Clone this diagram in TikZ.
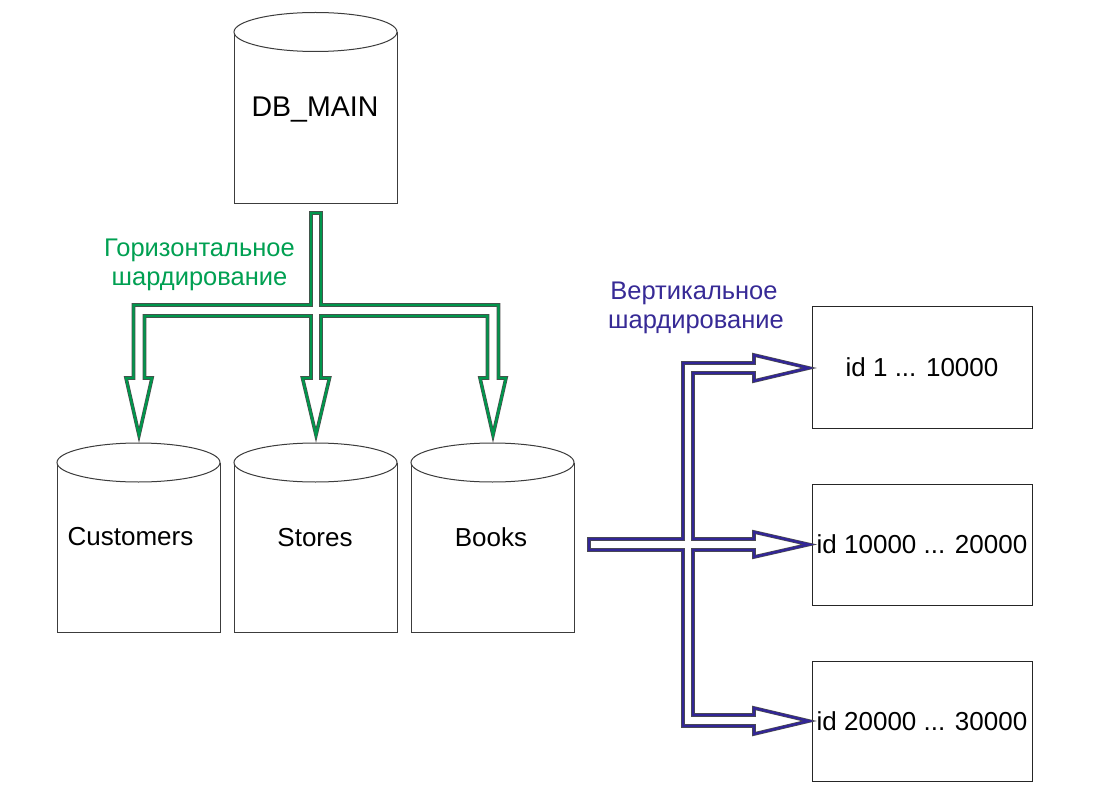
\documentclass[tikz,border=0pt]{standalone}
\usepackage{fontspec}
\setmainfont{Liberation Sans}
\usetikzlibrary{calc}
\definecolor{hgreen}{RGB}{0,160,82}
\definecolor{hgreenline}{RGB}{0,150,76}
\definecolor{vblue}{RGB}{55,42,150}
\definecolor{vblueline}{RGB}{50,38,150}
\definecolor{edge}{RGB}{60,60,60}
\tikzset{
  cylline/.style={draw=edge, line width=1, fill=white},
  rectbox/.style={draw=black!85, line width=1, minimum width=220, minimum height=121, inner sep=0,
    font=\fontsize{26}{31}\selectfont},
  dbtext/.style={anchor=base, inner sep=0, font=\fontsize{26}{31}\selectfont},
  greentext/.style={anchor=base, inner sep=0, text=hgreen, font=\fontsize{25.5}{30}\selectfont},
  bluetext/.style={anchor=base, inner sep=0, text=vblue, font=\fontsize{25.5}{30}\selectfont},
  arrowunder/.style={draw=black!70, line width=3.6, fill=white, line join=miter},
  greenarrow/.style={draw=hgreenline, line width=2.3, line join=miter},
  bluearrow/.style={draw=vblueline, line width=2.3, line join=miter},
}
\begin{document}
\begin{tikzpicture}[x=1pt, y=-1pt]
\useasboundingbox (0,0) rectangle (1103,794);
\fill[white] (0,0) rectangle (1103,794);

% cylinders: top ellipse centre and height of body
\coordinate (cmain) at (315.5,32);
\coordinate (ccust) at (138.5,462.5);
\coordinate (cstores) at (315.5,462.5);
\coordinate (cbooks) at (492.5,462.5);
\foreach \c/\h in {cmain/172, ccust/169.5, cstores/169.5, cbooks/169.5}{
  \draw[cylline] ($(\c)+(-81.5,0)$) -- ++(0,\h) -- ++(163,0) -- ++(0,-\h);
  \draw[cylline] (\c) ellipse [x radius=81.5, y radius=19.5];
}
\node[dbtext, font=\fontsize{28.5}{33}\selectfont] (main) at (315,117) {DB\_MAIN};
\node[dbtext] (cust) at (130.5,545) {Customers};
\node[dbtext] (stores) at (315,546) {Stores};
\node[dbtext] (books) at (491,546) {Books};

% shard boxes
\node[rectbox] (r1) at (922,367.5) {id 1 ... 10000};
\node[rectbox] (r2) at (922,544.5) {id 10000 ... 20000};
\node[rectbox, minimum height=120] (r3) at (922,721) {id 20000 ... 30000};

% labels
\node[greentext] (h1) at (199.5,257) {Горизонтальное};
\node[greentext] (h2) at (199.5,286) {шардирование};
\node[bluetext] (v1) at (694,300) {Вертикальное};
\node[bluetext] (v2) at (696,329) {шардирование};

% green block arrow
\def\greenpath{(311,213) -- (311,305) -- (133.5,305) -- (133.5,378) -- (126,378) -- (139,435) -- (152,378) -- (144.5,378) -- (144.5,316) -- (311,316) -- (311,378) -- (302.5,378) -- (316,435) -- (329.5,378) -- (321,378) -- (321,316) -- (487.5,316) -- (487.5,378) -- (480,378) -- (493,435) -- (506,378) -- (498.5,378) -- (498.5,305) -- (321,305) -- (321,213) -- cycle}
\draw[arrowunder] \greenpath;
\draw[greenarrow] \greenpath;

% blue block arrow
\def\bluepath{(589,539) -- (683,539) -- (683,363) -- (754,363) -- (754,355) -- (809,368) -- (754,381) -- (754,373) -- (693,373) -- (693,539) -- (754,539) -- (754,532) -- (809,544.5) -- (754,557) -- (754,550) -- (693,550) -- (693,715) -- (754,715) -- (754,708) -- (809,721) -- (754,734) -- (754,726) -- (683,726) -- (683,550) -- (589,550) -- cycle}
\draw[arrowunder] \bluepath;
\draw[bluearrow] \bluepath;
\end{tikzpicture}
\end{document}
